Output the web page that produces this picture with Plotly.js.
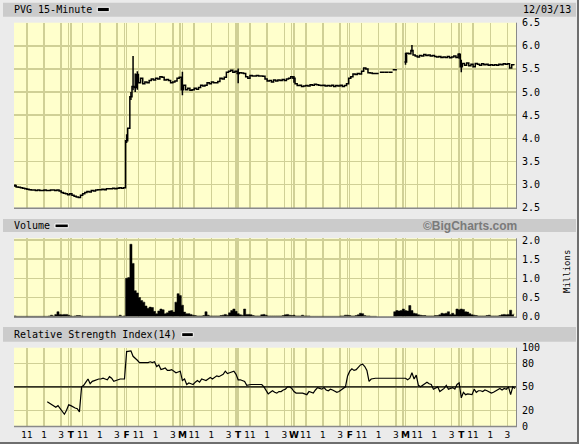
<!DOCTYPE html>
<html><head><meta charset="utf-8">
<script src="https://cdn.plot.ly/plotly-3.0.1.min.js"></script>
<style>html,body{margin:0;padding:0;background:#ebebeb;overflow:hidden;} #chart{width:579px;height:444px;}</style>
</head><body><div id="chart"></div>
<script>
// ---- DATA (15-minute bars, 26 per session, 9 sessions) ----
const dayLetters = ['T','F','M','T','W','F','M','T'];
const hourLabels = ['11','1','3'];

const price = [
 2.98,2.95,2.94,2.93,2.92,2.91,2.90,2.89,2.88,2.88,2.87,2.88,2.87,2.87,2.88,2.87,2.87,2.88,2.88,2.87,2.88,2.86,2.83,2.81,2.80,2.78,
 2.80,2.77,2.75,2.73,2.72,2.77,2.80,2.83,2.85,2.84,2.87,2.86,2.88,2.89,2.89,2.90,2.89,2.91,2.91,2.91,2.92,2.91,2.92,2.93,2.92,2.93,
 3.95,4.22,4.90,5.12,5.10,5.38,5.20,5.30,5.18,5.22,5.20,5.25,5.28,5.26,5.30,5.28,5.33,5.32,5.26,5.27,5.25,5.20,5.22,5.24,5.30,5.32,
 5.05,5.15,5.05,5.08,5.04,5.05,5.08,5.06,5.10,5.15,5.13,5.15,5.20,5.18,5.22,5.20,5.20,5.23,5.30,5.28,5.32,5.43,5.45,5.47,5.43,5.45,
 5.40,5.42,5.41,5.40,5.33,5.30,5.36,5.35,5.35,5.36,5.35,5.35,5.34,5.28,5.24,5.25,5.22,5.26,5.24,5.26,5.25,5.27,5.25,5.28,5.30,5.33,
 5.30,5.18,5.14,5.15,5.12,5.13,5.14,5.13,5.16,5.15,5.17,5.16,5.15,5.14,5.15,5.13,5.14,5.13,5.15,5.12,5.14,5.13,5.15,5.12,5.14,5.18,
 5.30,5.33,5.39,5.38,5.40,5.39,5.45,5.52,5.50,5.42,5.41,5.40,5.40,5.40,5.40,null,null,null,null,null,null,null,null,null,null,null,
 5.65,5.84,5.83,5.90,5.80,5.78,5.76,5.79,5.78,5.81,5.79,5.80,5.78,5.79,5.77,5.76,5.77,5.75,5.76,5.75,5.77,5.74,5.76,5.78,5.75,5.82,
 5.55,5.62,5.58,5.63,5.57,5.60,5.55,5.62,5.60,5.58,5.61,5.59,5.60,5.58,5.59,5.58,5.59,5.58,5.60,5.59,5.61,5.60,5.61,5.52,5.59,5.58
];
// isolated thin trades on the half-day session
const sparseBar = [171, 173, 175, 177];
const sparsePrice = [5.43, 5.43, 5.43, 5.48];
// bar ranges (high/low) where they stick out of the close line
const spikeBar = [0, 52, 54, 55, 56, 57, 78, 104, 130, 182, 185, 207, 208];
const spikeHigh = [3.00, 4.09, 5.00, 5.78, 5.40, 5.45, 5.44, 5.51, 5.35, 5.85, 6.02, 5.84, 5.70];
const spikeLow  = [2.95, 3.90, 4.83, 5.04, 5.00, 5.05, 4.93, 5.19, 5.20, 5.59, 5.87, 5.72, 5.43];

const volume = [
 0.02,0.01,0.01,0.01,0.01,0.01,0.01,0.01,0.01,0.01,0.01,0.01,0.01,0.01,0.01,0.01,0.02,0.04,0.02,0.06,0.13,0.06,0.05,0.06,0.06,0.04,
 0.02,0.01,0.02,0.03,0.03,0.02,0.01,0.01,0.01,0.01,0.01,0.01,0.01,0.01,0.01,0.01,0.01,0.01,0.01,0.01,0.01,0.01,0.01,0.04,0.01,0.02,
 1.00,1.02,1.89,1.39,0.68,0.62,0.50,0.42,0.38,0.28,0.22,0.25,0.24,0.14,0.08,0.15,0.20,0.18,0.08,0.10,0.15,0.16,0.12,0.38,0.60,0.55,
 0.30,0.12,0.08,0.08,0.06,0.04,0.03,0.02,0.02,0.02,0.03,0.13,0.04,0.02,0.02,0.02,0.02,0.02,0.03,0.04,0.06,0.04,0.10,0.16,0.20,0.14,
 0.08,0.05,0.04,0.20,0.06,0.06,0.05,0.03,0.02,0.02,0.02,0.05,0.06,0.04,0.02,0.02,0.02,0.02,0.02,0.02,0.02,0.03,0.05,0.06,0.04,0.03,
 0.04,0.02,0.02,0.02,0.04,0.02,0.02,0.02,0.01,0.01,0.01,0.01,0.01,0.01,0.01,0.01,0.01,0.01,0.01,0.01,0.01,0.01,0.02,0.02,0.04,0.04,
 0.03,0.02,0.02,0.03,0.05,0.09,0.08,0.03,0.02,0.02,0.01,0.01,0.01,0,0,0,0,0,0,0,0,0.13,0.16,0.15,0.16,0.20,
 0.16,0.15,0.29,0.16,0.09,0.08,0.05,0.04,0.03,0.03,0.02,0.02,0.02,0.02,0.03,0.03,0.05,0.09,0.08,0.09,0.13,0.06,0.09,0.05,0.20,0.18,
 0.20,0.19,0.13,0.12,0.08,0.05,0.04,0.03,0.02,0.02,0.02,0.02,0.03,0.04,0.02,0.02,0.02,0.02,0.03,0.05,0.06,0.05,0.06,0.17,0.05,0.08
];

const rsi = [
 null,null,null,null,null,null,null,null,null,null,null,null,null,null,null,31,29,27,25,24,26,22,18,15,20,27,
 26,24,23,22,18,50,52,56,60,54,57,58,59,60,60,61,60,59,63,61,57,58,60,60,60,60,
 95,96,96,89,87,84,81,81,81,81,81,82,81,82,76,78,72,73,74,71,71,72,70,68,69,70,
 58,60,53,55,54,53,56,58,56,60,59,58,60,62,60,62,64,63,64,66,70,67,68,69,70,66,
 59,59,58,57,52,53,53,53,53,53,53,53,50,46,41,43,45,43,42,44,44,46,47,50,50,48,
 44,42,42,42,42,41,40,44,43,42,46,49,48,47,49,46,45,47,46,44,43,44,46,48,50,64,
 70,73,71,72,75,78,79,76,71,57,60,61,61,61,61,61,61,61,61,61,61,61,61,61,61,61,
 61,59,61,68,60,65,52,50,52,53,56,54,53,47,49,50,44,46,48,52,47,48,49,47,53,55,
 36,43,40,41,40,40,47,43,45,45,44,46,45,44,42,43,45,46,48,46,48,47,50,40,50,48
];
const priceTicks = [2.5,3.0,3.5,4.0,4.5,5.0,5.5,6.0,6.5];
const volTicks = [0,0.5,1.0,1.5,2.0];
const rsiTicks = [0,20,50,80,100];

// ---- LAYOUT HELPERS ----
const W = 579, H = 444;
const px = v => v / W;
const py = v => (H - v) / H;
const BAR = 26, NDAYS = 9;
const NB = BAR * NDAYS;
const barIdx = price.map((_, i) => i);
const mid = barIdx.map(i => i + 0.5);

const tickvals = [], ticktext = [], minorVals = [];
for (let d = 0; d < NDAYS; d++) {
  if (d > 0) {
    tickvals.push(d * BAR + 0.5); ticktext.push('<b>' + dayLetters[d - 1] + '</b>');
    minorVals.push(d * BAR - 0.6);
  }
  [6, 14, 22].forEach((h, k) => { tickvals.push(d * BAR + h); ticktext.push(hourLabels[k]); });
}

const spikeX = [], spikeY = [];
spikeBar.forEach((b, k) => { spikeX.push(b + 0.5, b + 0.5, null); spikeY.push(spikeLow[k], spikeHigh[k], null); });

const GRID = 'rgb(208,208,150)';
const BG = '#ffffcc';
const MONO = 'DejaVu Sans Mono';

const traces = [
  {x: barIdx, y: price, type: 'scatter', mode: 'lines', line: {color: '#000', width: 1.5, shape: 'hv'}, connectgaps: false, xaxis: 'x', yaxis: 'y', hoverinfo: 'skip'},
  {x: spikeX, y: spikeY, type: 'scatter', mode: 'lines', line: {color: '#000', width: 1.5}, xaxis: 'x', yaxis: 'y', hoverinfo: 'skip'},
  {x: sparseBar.map(b => b + 0.5), y: sparsePrice, type: 'scatter', mode: 'markers', marker: {symbol: 'line-ew', size: 3, line: {color: '#000', width: 1.5}}, xaxis: 'x', yaxis: 'y', hoverinfo: 'skip'},
  {x: barIdx, y: volume, type: 'scatter', mode: 'lines', fill: 'tozeroy', fillcolor: '#000', line: {color: '#000', width: 0.5, shape: 'hv'}, xaxis: 'x', yaxis: 'y2', hoverinfo: 'skip'},
  {x: mid, y: rsi, type: 'scatter', mode: 'lines', line: {color: '#000', width: 1.2}, xaxis: 'x', yaxis: 'y3', hoverinfo: 'skip'}
];

const yCommon = {side: 'right', anchor: 'x', showgrid: true, gridcolor: GRID, gridwidth: 1.5, zeroline: false, showline: false,
  ticks: '', ticklabelstandoff: 5, tickfont: {family: MONO, size: 10, color: '#000'}, fixedrange: true, automargin: false};

const panels = [[22.7, 207.7], [238.3, 316.7], [347.7, 426]];
const headers = [[2.7, 16.7], [219, 232], [327, 341.7]];
const swatches = [[97.3, 109.3, 7.3, 11.7], [55, 68.3, 224, 227.7], [181.7, 193.3, 332.7, 336.7]];

const shapes = [];
headers.forEach(h => shapes.push({type: 'rect', xref: 'paper', yref: 'paper', x0: px(3), x1: px(576), y0: py(h[1]), y1: py(h[0]), fillcolor: '#cbcbcb', line: {width: 0}, layer: 'below'}));
swatches.forEach(s => shapes.push({type: 'rect', xref: 'paper', yref: 'paper', x0: px(s[0]), x1: px(s[1]), y0: py(s[3]), y1: py(s[2]), fillcolor: '#000', line: {color: '#fff', width: 1}}));
panels.forEach(p => {
  shapes.push({type: 'line', xref: 'paper', yref: 'paper', x0: px(14), x1: px(517), y0: py(p[1] + 0.5), y1: py(p[1] + 0.5), line: {color: '#8a8a8a', width: 1.5}});
  shapes.push({type: 'line', xref: 'paper', yref: 'paper', x0: px(516.5), x1: px(516.5), y0: py(p[1] + 1), y1: py(p[0]), line: {color: '#8a8a8a', width: 1}});
});
shapes.push({type: 'line', xref: 'x', yref: 'y3', x0: 0, x1: NB, y0: 50, y1: 50, line: {color: '#000', width: 1.2}});
shapes.push({type: 'rect', xref: 'paper', yref: 'paper', x0: px(577), x1: 1.01, y0: -0.01, y1: 1.01, fillcolor: '#6e6e6e', line: {width: 0}});
shapes.push({type: 'rect', xref: 'paper', yref: 'paper', x0: -0.01, x1: 1.01, y0: -0.01, y1: py(442), fillcolor: '#6e6e6e', line: {width: 0}});

const ann = (text, x, y, xanchor, font, extra) => Object.assign({text, xref: 'paper', yref: 'paper', x: px(x), y: py(y), xanchor, yanchor: 'middle', showarrow: false, font, borderpad: 0}, extra || {});
const hFont = {family: MONO, size: 10, color: '#000'};
const annotations = [
  ann('PVG 15-Minute', 13, 9.7, 'left', hFont),
  ann('12/03/13', 572, 9.7, 'right', hFont),
  ann('Volume', 13, 225.5, 'left', hFont),
  ann('©BigCharts.com', 518, 225.5, 'right', {family: 'Liberation Sans', size: 12, color: '#7a7a7a', weight: 'bold'}),
  ann('Relative Strength Index(14)', 13, 334.5, 'left', hFont),
  ann('Millions', 567, 272, 'center', {family: MONO, size: 9, color: '#000'}, {textangle: -90})
];

const layout = {
  width: W, height: H, margin: {l: 0, r: 0, t: 0, b: 0}, showlegend: false,
  paper_bgcolor: '#ebebeb', plot_bgcolor: BG,
  xaxis: {domain: [px(14), px(516)], range: [0, NB], anchor: 'y3', tickmode: 'array', tickvals, ticktext, tickangle: 0,
    showgrid: true, gridcolor: GRID, gridwidth: 1.5, zeroline: false, showline: false, ticks: '', ticklabelstandoff: 2,
    tickfont: {family: 'DejaVu Sans', size: 9, color: '#000'}, fixedrange: true, automargin: false,
    minor: {tickmode: 'array', tickvals: minorVals, showgrid: true, gridcolor: GRID, gridwidth: 1.5, ticks: ''}},
  yaxis: Object.assign({}, yCommon, {domain: [py(panels[0][1]), py(panels[0][0])], range: [2.5, 6.5], tickmode: 'array', tickvals: priceTicks, ticktext: priceTicks.map(v => v.toFixed(1))}),
  yaxis2: Object.assign({}, yCommon, {domain: [py(panels[1][1]), py(panels[1][0])], range: [0, 2.045], tickmode: 'array', tickvals: volTicks, ticktext: volTicks.map(v => v.toFixed(1))}),
  yaxis3: Object.assign({}, yCommon, {domain: [py(panels[2][1]), py(panels[2][0])], range: [0, 100], tickmode: 'array', tickvals: rsiTicks, ticktext: rsiTicks.map(String)}),
  shapes, annotations
};

Plotly.newPlot('chart', traces, layout, {staticPlot: true, displayModeBar: false});
</script>
</body></html>
